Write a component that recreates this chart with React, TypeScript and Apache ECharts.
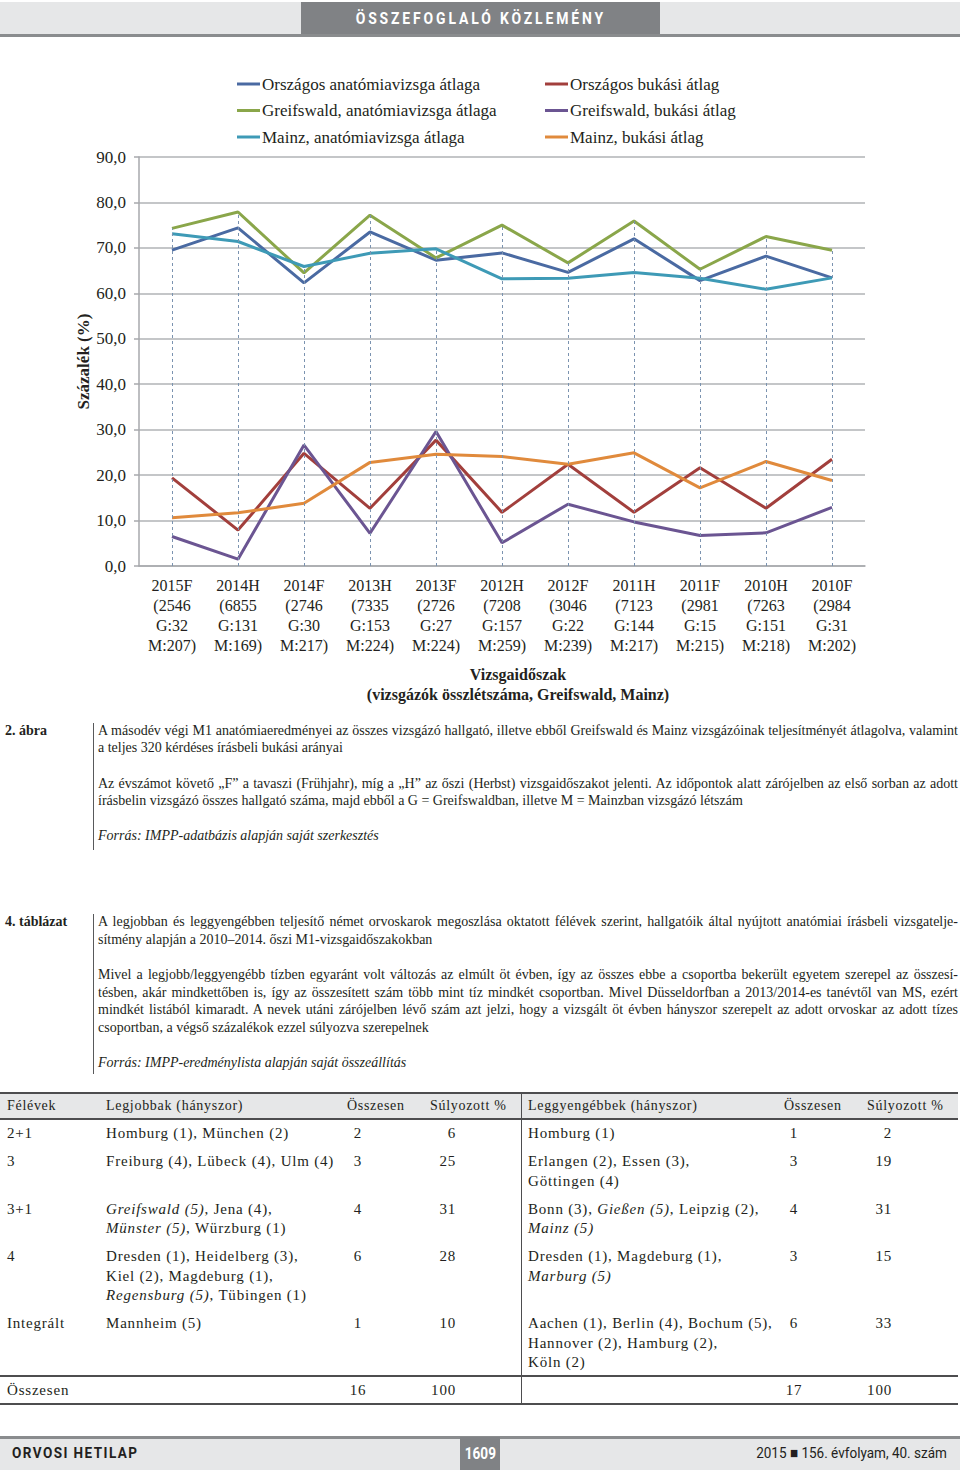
import React, { useEffect, useRef } from "react";
import * as echarts from "echarts";

const periods = ["2015F", "2014H", "2014F", "2013H", "2013F", "2012H", "2012F", "2011H", "2011F", "2010H", "2010F"];
const totalN = [2546, 6855, 2746, 7335, 2726, 7208, 3046, 7123, 2981, 7263, 2984];
const greifN = [32, 131, 30, 153, 27, 157, 22, 144, 15, 151, 31];
const mainzN = [207, 169, 217, 224, 224, 259, 239, 217, 215, 218, 202];

const natAnat = [69.5, 74.4, 62.3, 73.5, 67.3, 68.9, 64.6, 72.0, 62.8, 68.2, 63.4];
const greifAnat = [74.3, 77.9, 64.5, 77.2, 67.8, 75.0, 66.7, 75.9, 65.3, 72.5, 69.5];
const mainzAnat = [73.1, 71.4, 65.9, 68.8, 69.8, 63.2, 63.3, 64.6, 63.3, 60.9, 63.4];
const natFail = [19.4, 7.9, 24.8, 12.7, 27.7, 11.8, 22.4, 11.8, 21.6, 12.7, 23.5];
const greifFail = [6.5, 1.5, 26.6, 7.2, 29.6, 5.1, 13.6, 9.7, 6.7, 7.3, 12.9];
const mainzFail = [10.6, 11.7, 13.8, 22.8, 24.6, 24.1, 22.4, 24.9, 17.2, 23.0, 18.8];

const seriesNames = [
  "Országos anatómiavizsga átlaga",
  "Greifswald, anatómiavizsga átlaga",
  "Mainz, anatómiavizsga átlaga",
  "Országos bukási átlag",
  "Greifswald, bukási átlag",
  "Mainz, bukási átlag",
];
const seriesData = [natAnat, greifAnat, mainzAnat, natFail, greifFail, mainzFail];
const seriesColors = ["#4a6aa2", "#8aa64a", "#3e9ab6", "#a23f3c", "#6b5592", "#e08a3c"];

const yTicks = { min: 0, max: 90, interval: 10 };

const SERIF = '"Liberation Serif", "DejaVu Serif", serif';
const SANS = 'Roboto, "Liberation Sans", sans-serif';
const TXT = "#231f20";

function Chart() {
  const ref = useRef<HTMLDivElement>(null);
  useEffect(() => {
    const chart = echarts.init(ref.current!, null, { renderer: "svg" });
    const categories = periods.map((p, i) => `${p}\n(${totalN[i]}\nG:${greifN[i]}\nM:${mainzN[i]})`);
    const maxVals = periods.map((_, i) => Math.max(...seriesData.map((s) => s[i])));
    const legendBase = {
      orient: "vertical" as const,
      top: 14,
      itemWidth: 23,
      itemHeight: 3,
      itemGap: 6.5,
      padding: 0,
      icon: "rect",
      textStyle: { fontFamily: SERIF, fontSize: 17, color: TXT, lineHeight: 20, padding: [0, 0, 0, -3] },
    };
    chart.setOption({
      animation: false,
      color: seriesColors,
      textStyle: { fontFamily: SERIF },
      legend: [
        { ...legendBase, left: 237, data: seriesNames.slice(0, 3) },
        { ...legendBase, left: 545, data: seriesNames.slice(3) },
      ],
      grid: { left: 139, right: 95, top: 97, bottom: 154 },
      xAxis: {
        type: "category",
        data: categories,
        boundaryGap: true,
        axisLine: { lineStyle: { color: "#a7a9ac", width: 1.5 } },
        axisTick: { show: false },
        axisLabel: { interval: 0, fontFamily: SERIF, fontSize: 16, lineHeight: 20, color: TXT, margin: 9 },
        name: "Vizsgaidőszak\n(vizsgázók összlétszáma, Greifswald, Mainz)",
        nameLocation: "middle",
        nameGap: 98,
        nameMoveOverlap: false,
        nameTextStyle: { fontFamily: SERIF, fontSize: 16, fontWeight: "bold", lineHeight: 20, color: TXT, padding: [0, 0, 0, 32] },
      },
      yAxis: {
        type: "value",
        min: yTicks.min,
        max: yTicks.max,
        interval: yTicks.interval,
        axisLine: { show: true, lineStyle: { color: "#a7a9ac", width: 1.5 } },
        axisTick: { show: true, length: 5, lineStyle: { color: "#a7a9ac", width: 1.5 } },
        splitLine: { lineStyle: { color: "#b1b3b6", width: 1.5 } },
        axisLabel: {
          fontFamily: SERIF,
          fontSize: 17,
          color: TXT,
          margin: 13,
          formatter: (v: number) => v.toFixed(1).replace(".", ","),
        },
        name: "Százalék (%)",
        nameLocation: "middle",
        nameGap: 47,
        nameMoveOverlap: false,
        nameRotate: 90,
        nameTextStyle: { fontFamily: SERIF, fontSize: 17, fontWeight: "bold", color: TXT },
      },
      series: [
        {
          type: "line",
          name: "__drop",
          data: [],
          silent: true,
          z: 1,
          markLine: {
            silent: true,
            symbol: ["none", "none"],
            label: { show: false },
            lineStyle: { type: [3, 3], color: "#7b93b0", width: 1 },
            data: maxVals.map((m, i) => [{ coord: [i, 0] }, { coord: [i, m] }]),
          },
        },
        ...seriesNames.map((n, k) => ({
          type: "line",
          name: n,
          data: seriesData[k],
          symbol: "none",
          z: 3,
          lineStyle: { width: 3, color: seriesColors[k] },
          itemStyle: { color: seriesColors[k] },
        })),
      ],
    });
    return () => chart.dispose();
  }, []);
  return <div ref={ref} style={{ position: "absolute", left: 0, top: 60, width: 960, height: 660 }} />;
}

type LProps = { top: number; left: number; width?: number; justify?: boolean; italic?: boolean; bold?: boolean; size?: number; children: React.ReactNode };
function Line({ top, left, width, justify, italic, bold, size, children }: LProps) {
  return (
    <div
      style={{
        position: "absolute",
        left,
        top: top - 9,
        width,
        height: 18,
        lineHeight: "18px",
        fontFamily: SERIF,
        fontSize: size || 14,
        color: TXT,
        fontStyle: italic ? "italic" : "normal",
        fontWeight: bold ? "bold" : "normal",
        textAlign: justify ? "justify" : "left",
        textAlignLast: justify ? "justify" : "auto",
        whiteSpace: justify ? "normal" : "nowrap",
      } as React.CSSProperties}
    >
      {children}
    </div>
  );
}

type TProps = { x: number; y: number; w?: number; align?: "left" | "center" | "right"; size?: number; ls?: number; children: React.ReactNode };
function T({ x, y, w, align, size, ls, children }: TProps) {
  return (
    <div
      style={{
        position: "absolute",
        left: x,
        top: y - 10,
        width: w,
        height: 20,
        lineHeight: "20px",
        fontFamily: SERIF,
        fontSize: size || 15,
        letterSpacing: ls === undefined ? 0.8 : ls,
        color: TXT,
        textAlign: align || "left",
        whiteSpace: "nowrap",
      }}
    >
      {children}
    </div>
  );
}

const I = ({ children }: { children: React.ReactNode }) => <i>{children}</i>;

function HLine({ y, x = 0, w = 960, h = 1.5, c = "#4d4d4f" }: { y: number; x?: number; w?: number; h?: number; c?: string }) {
  return <div style={{ position: "absolute", left: x, top: y, width: w, height: h, background: c }} />;
}

export default function App() {
  const LX = 98;
  const LW = 860;
  const hdr = 14;
  return (
    <div style={{ position: "absolute", left: 0, top: 0, width: 960, height: 1470, background: "#fff", overflow: "hidden" }}>
      {/* header */}
      <div style={{ position: "absolute", left: 0, top: 2, width: 960, height: 32, background: "#e6e7e8" }} />
      <div style={{ position: "absolute", left: 301, top: 2, width: 359, height: 33, background: "#808285" }} />
      <HLine y={34} h={2.5} c="#8a8c8e" />
      <div
        style={{
          position: "absolute",
          left: 301,
          top: 8,
          width: 359,
          textAlign: "center",
          fontFamily: SANS,
          fontWeight: "bold",
          fontSize: 16,
          letterSpacing: 3.3,
          color: "#fff",
          lineHeight: "22px",
          whiteSpace: "nowrap",
        }}
      >
        <span style={{ display: "inline-block", transform: "scaleX(0.87)" }}>ÖSSZEFOGLALÓ KÖZLEMÉNY</span>
      </div>

      <Chart />

      {/* figure caption */}
      <Line top={731} left={5} bold>2. ábra</Line>
      <div style={{ position: "absolute", left: 93, top: 723, width: 1, height: 127, background: "#58595b" }} />
      <Line top={731} left={LX} width={LW} justify>A másodév végi M1 anatómiaeredményei az összes vizsgázó hallgató, illetve ebből Greifswald és Mainz vizsgázóinak teljesítményét átlagolva, valamint</Line>
      <Line top={748} left={LX}>a teljes 320 kérdéses írásbeli bukási arányai</Line>
      <Line top={784} left={LX} width={LW} justify>Az évszámot követő „F” a tavaszi (Frühjahr), míg a „H” az őszi (Herbst) vizsgaidőszakot jelenti. Az időpontok alatt zárójelben az első sorban az adott</Line>
      <Line top={801} left={LX}>írásbelin vizsgázó összes hallgató száma, majd ebből a G = Greifswaldban, illetve M = Mainzban vizsgázó létszám</Line>
      <Line top={836} left={LX} italic>Forrás: IMPP-adatbázis alapján saját szerkesztés</Line>

      {/* table caption */}
      <Line top={922} left={5} bold>4. táblázat</Line>
      <div style={{ position: "absolute", left: 93, top: 914, width: 1, height: 160, background: "#58595b" }} />
      <Line top={922} left={LX} width={LW} justify>A legjobban és leggyengébben teljesítő német orvoskarok megoszlása oktatott félévek szerint, hallgatóik által nyújtott anatómiai írásbeli vizsgatelje-</Line>
      <Line top={940} left={LX}>sítmény alapján a 2010–2014. őszi M1-vizsgaidőszakokban</Line>
      <Line top={975} left={LX} width={LW} justify>Mivel a legjobb/leggyengébb tízben egyaránt volt változás az elmúlt öt évben, így az összes ebbe a csoportba bekerült egyetem szerepel az összesí-</Line>
      <Line top={993} left={LX} width={LW} justify>tésben, akár mindkettőben is, így az összesített szám több mint tíz mindkét csoportban. Mivel Düsseldorfban a 2013/2014-es tanévtől van MS, ezért</Line>
      <Line top={1010} left={LX} width={LW} justify>mindkét listából kimaradt. A nevek utáni zárójelben lévő szám azt jelzi, hogy a vizsgált öt évben hányszor szerepelt az adott orvoskar az adott tízes</Line>
      <Line top={1028} left={LX}>csoportban, a végső százalékok ezzel súlyozva szerepelnek</Line>
      <Line top={1063} left={LX} italic>Forrás: IMPP-eredménylista alapján saját összeállítás</Line>

      {/* table */}
      <div style={{ position: "absolute", left: 0, top: 1093, width: 958, height: 26, background: "#e6e7e8" }} />
      <HLine y={1092} w={958} />
      <HLine y={1118} w={958} h={2} />
      <HLine y={1375} w={958} />
      <HLine y={1403} w={958} h={2} />
      <div style={{ position: "absolute", left: 520.5, top: 1092, width: 1.5, height: 313, background: "#4d4d4f" }} />

      <T x={7} y={1106} size={hdr} ls={0.7}>Félévek</T>
      <T x={106} y={1106} size={hdr} ls={0.7}>Legjobbak (hányszor)</T>
      <T x={347} y={1106} size={hdr} ls={0.7}>Összesen</T>
      <T x={430} y={1106} size={hdr} ls={0.7}>Súlyozott %</T>
      <T x={528} y={1106} size={hdr} ls={0.7}>Leggyengébbek (hányszor)</T>
      <T x={784} y={1106} size={hdr} ls={0.7}>Összesen</T>
      <T x={867} y={1106} size={hdr} ls={0.7}>Súlyozott %</T>

      {/* row 2+1 */}
      <T x={7} y={1133}>2+1</T>
      <T x={106} y={1133}>Homburg (1), München (2)</T>
      <T x={338} y={1133} w={40} align="center">2</T>
      <T x={400} y={1133} w={56} align="right">6</T>
      <T x={528} y={1133}>Homburg (1)</T>
      <T x={774} y={1133} w={40} align="center">1</T>
      <T x={836} y={1133} w={56} align="right">2</T>

      {/* row 3 */}
      <T x={7} y={1161}>3</T>
      <T x={106} y={1161}>Freiburg (4), Lübeck (4), Ulm (4)</T>
      <T x={338} y={1161} w={40} align="center">3</T>
      <T x={400} y={1161} w={56} align="right">25</T>
      <T x={528} y={1161}>Erlangen (2), Essen (3),</T>
      <T x={528} y={1181}>Göttingen (4)</T>
      <T x={774} y={1161} w={40} align="center">3</T>
      <T x={836} y={1161} w={56} align="right">19</T>

      {/* row 3+1 */}
      <T x={7} y={1209}>3+1</T>
      <T x={106} y={1209}><I>Greifswald (5)</I>, Jena (4),</T>
      <T x={106} y={1228}><I>Münster (5)</I>, Würzburg (1)</T>
      <T x={338} y={1209} w={40} align="center">4</T>
      <T x={400} y={1209} w={56} align="right">31</T>
      <T x={528} y={1209}>Bonn (3), <I>Gießen (5)</I>, Leipzig (2),</T>
      <T x={528} y={1228}><I>Mainz (5)</I></T>
      <T x={774} y={1209} w={40} align="center">4</T>
      <T x={836} y={1209} w={56} align="right">31</T>

      {/* row 4 */}
      <T x={7} y={1256}>4</T>
      <T x={106} y={1256}>Dresden (1), Heidelberg (3),</T>
      <T x={106} y={1276}>Kiel (2), Magdeburg (1),</T>
      <T x={106} y={1295}><I>Regensburg (5)</I>, Tübingen (1)</T>
      <T x={338} y={1256} w={40} align="center">6</T>
      <T x={400} y={1256} w={56} align="right">28</T>
      <T x={528} y={1256}>Dresden (1), Magdeburg (1),</T>
      <T x={528} y={1276}><I>Marburg (5)</I></T>
      <T x={774} y={1256} w={40} align="center">3</T>
      <T x={836} y={1256} w={56} align="right">15</T>

      {/* row Integrált */}
      <T x={7} y={1323}>Integrált</T>
      <T x={106} y={1323}>Mannheim (5)</T>
      <T x={338} y={1323} w={40} align="center">1</T>
      <T x={400} y={1323} w={56} align="right">10</T>
      <T x={528} y={1323}>Aachen (1), Berlin (4), Bochum (5),</T>
      <T x={528} y={1343}>Hannover (2), Hamburg (2),</T>
      <T x={528} y={1362}>Köln (2)</T>
      <T x={774} y={1323} w={40} align="center">6</T>
      <T x={836} y={1323} w={56} align="right">33</T>

      {/* total */}
      <T x={7} y={1390}>Összesen</T>
      <T x={338} y={1390} w={40} align="center">16</T>
      <T x={400} y={1390} w={56} align="right">100</T>
      <T x={774} y={1390} w={40} align="center">17</T>
      <T x={836} y={1390} w={56} align="right">100</T>

      {/* footer */}
      <div style={{ position: "absolute", left: 0, top: 1437, width: 960, height: 33, background: "#e6e7e8" }} />
      <HLine y={1436} h={2.5} c="#8a8c8e" />
      <div style={{ position: "absolute", left: 460, top: 1437, width: 40, height: 33, background: "#808285" }} />
      <div style={{ position: "absolute", left: 12, top: 1443, lineHeight: "20px", fontFamily: SANS, fontWeight: "bold", fontSize: 15, letterSpacing: 1.6, color: TXT, whiteSpace: "nowrap" }}>
        <span style={{ display: "inline-block", transform: "scaleX(0.9)", transformOrigin: "left center" }}>ORVOSI HETILAP</span>
      </div>
      <div style={{ position: "absolute", left: 460, top: 1444, width: 40, textAlign: "center", lineHeight: "20px", fontFamily: SANS, fontWeight: "bold", fontSize: 16, color: "#fff" }}>
        <span style={{ display: "inline-block", transform: "scaleX(0.85)" }}>1609</span>
      </div>
      <div style={{ position: "absolute", right: 13, top: 1443, lineHeight: "20px", fontFamily: SANS, fontSize: 15, color: TXT, whiteSpace: "nowrap" }}>
        <span style={{ display: "inline-block", transform: "scaleX(0.9)", transformOrigin: "right center" }}>2015 ■ 156. évfolyam, 40. szám</span>
      </div>
    </div>
  );
}
